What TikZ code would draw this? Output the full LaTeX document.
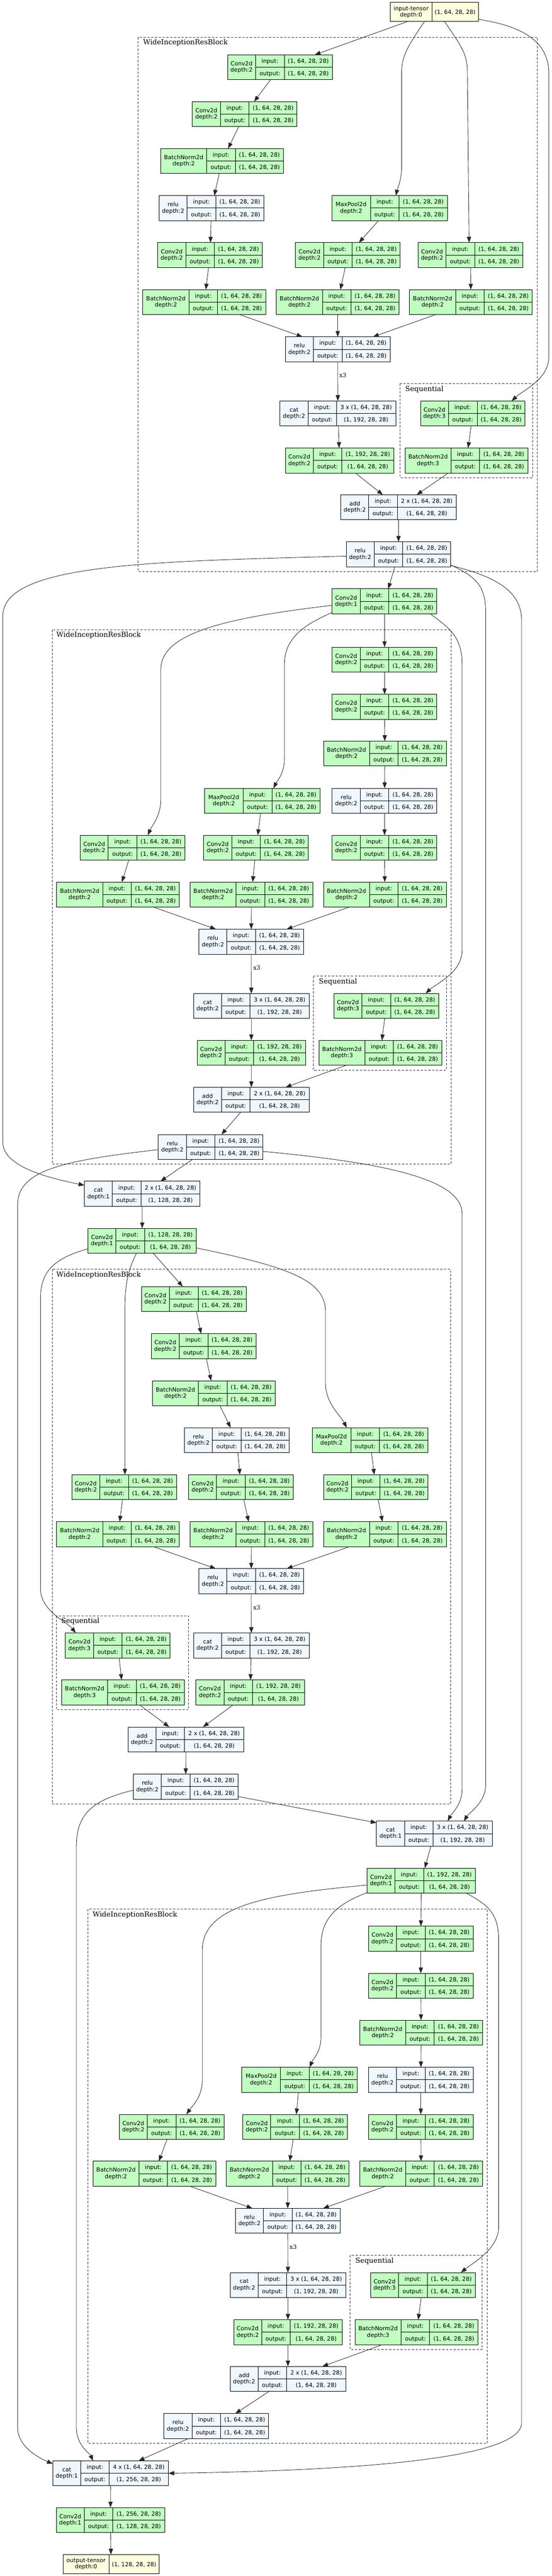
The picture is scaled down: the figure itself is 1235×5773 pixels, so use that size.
\documentclass[tikz,border=0pt]{standalone}
\usepackage{fontspec}
\newfontfamily\nodefont{DejaVu Sans}
\newfontfamily\serifont{DejaVu Serif}
\usetikzlibrary{arrows.meta,calc}
\definecolor{gfill}{HTML}{C1FFC1}
\definecolor{bfill}{HTML}{F0F8FF}
\definecolor{yfill}{HTML}{FFFFE0}
\tikzset{
 cellline/.style={line width=1.1pt,draw=black},
 ntext/.style={inner sep=0pt,font=\nodefont\fontsize{12.8}{14.3}\selectfont,align=center},
 vtext/.style={ntext,text height=10.5pt,text depth=1.2pt},
 conn/.style={line width=1pt,draw=black!85,-{Triangle[length=13pt,width=9.5pt]}},
 cluster/.style={draw=black!80,line width=1.1pt,dash pattern=on 5pt off 3.5pt},
 clabel/.style={anchor=west,inner sep=0pt,font=\serifont\fontsize{15.7}{18}\selectfont},
 elabel/.style={anchor=west,inner sep=0pt,font=\serifont\fontsize{13.3}{15}\selectfont},
}
\newcommand\tConv{\def\wa{62.6}\def\wb{64.4}\def\wc{107.3}}
\newcommand\tBN{\def\wa{103.2}\def\wb{63.8}\def\wc{107.9}}
\newcommand\tPool{\def\wa{86.5}\def\wb{64.4}\def\wc{107.9}}
\newcommand\tCat{\def\wa{62.6}\def\wb{63.8}\def\wc{132.4}}
\newcommand\tWide{\def\wa{62.6}\def\wb{63.8}\def\wc{116.3}}
\newcommand\sixfour{(1, 64, 28, 28)}
% name, x, y, type, fill, title, input, output
\newcommand\mkrec[8]{%
 #4%
 \pgfmathsetmacro\xa{#2+\wa}%
 \pgfmathsetmacro\xb{\xa+\wb}%
 \pgfmathsetmacro\xc{\xb+\wc}%
 \pgfmathsetmacro\wt{\wa+\wb+\wc}%
 \pgfmathsetmacro\yt{-(#3)}%
 \pgfmathsetmacro\ym{-(#3)-28}%
 \pgfmathsetmacro\yb{-(#3)-56}%
 \pgfmathsetmacro\yi{-(#3)-14}%
 \pgfmathsetmacro\yo{-(#3)-42}%
 \pgfmathsetmacro\xn{#2+\wa/2}%
 \pgfmathsetmacro\xl{\xa+\wb/2}%
 \pgfmathsetmacro\xv{\xb+\wc/2}%
 \node[cellline,fill=#5,inner sep=0pt,outer sep=0pt,minimum width=\wt pt,minimum height=56pt,anchor=north west] (#1) at (#2,\yt) {};
 \draw[cellline] (\xa,\yt) -- (\xa,\yb) (\xb,\yt) -- (\xb,\yb) (\xa,\ym) -- (\xc,\ym);
 \node[ntext] (#1n) at (\xn,\ym) {#6};
 \node[vtext] (#1il) at (\xl,\yi) {input:};
 \node[vtext] (#1ol) at (\xl,\yo) {output:};
 \node[vtext] (#1iv) at (\xv,\yi) {#7};
 \node[vtext] (#1ov) at (\xv,\yo) {#8};
}
% name, x, y, w1, w2, title, value
\newcommand\mktens[7]{%
 \pgfmathsetmacro\xa{#2+#4}%
 \pgfmathsetmacro\wt{#4+#5}%
 \pgfmathsetmacro\yt{-(#3)}%
 \pgfmathsetmacro\yb{-(#3)-42.8}%
 \pgfmathsetmacro\yc{-(#3)-21.4}%
 \pgfmathsetmacro\xn{#2+#4/2}%
 \pgfmathsetmacro\xv{\xa+#5/2}%
 \node[cellline,fill=yfill,inner sep=0pt,outer sep=0pt,minimum width=\wt pt,minimum height=42.8pt,anchor=north west] (#1) at (#2,\yt) {};
 \draw[cellline] (\xa,\yt) -- (\xa,\yb);
 \node[ntext] (#1n) at (\xn,\yc) {#6};
 \node[vtext] (#1v) at (\xv,\yc) {#7};
}
\begin{document}
\begin{tikzpicture}[x=1pt,y=1pt]
\fill[white] (0,0) rectangle (1235,-5773);
\useasboundingbox (0,0) rectangle (1235,-5773);
% clusters
\draw[cluster] (308.9,-83.5) rectangle (1202.8,-1280.8);
\draw[cluster] (895.7,-859.4) rectangle (1192.1,-1070.5);
\draw[cluster] (116.6,-1411.4) rectangle (1009.8,-2608.6);
\draw[cluster] (701.8,-2187.8) rectangle (998.7,-2398.4);
\draw[cluster] (116.6,-2844.5) rectangle (1008.2,-4042.9);
\draw[cluster] (126,-3621.2) rectangle (422.2,-3831.8);
\draw[cluster] (196.9,-4278.4) rectangle (1090.9,-5475.3);
\draw[cluster] (783.7,-5054.6) rectangle (1079.1,-5265);
\node[clabel] (lab1) at (320.3,-96) {WideInceptionResBlock};
\node[clabel] (lab1s) at (907,-872.3) {Sequential};
\node[clabel] (lab2) at (126,-1423.7) {WideInceptionResBlock};
\node[clabel] (lab2s) at (713.6,-2200.4) {Sequential};
\node[clabel] (lab3) at (126,-2857.5) {WideInceptionResBlock};
\node[clabel] (lab3s) at (137,-3633.5) {Sequential};
\node[clabel] (lab4) at (207.2,-4291.4) {WideInceptionResBlock};
\node[clabel] (lab4s) at (795.5,-5067) {Sequential};
% block 1
\mktens{inp}{873.6}{5.4}{93}{103.8}{input-tensor\\depth:0}{\sixfour}
\mkrec{A1}{509.3}{122.8}{\tConv}{gfill}{Conv2d\\depth:2}{\sixfour}{\sixfour}
\mkrec{A2}{430.6}{227.7}{\tConv}{gfill}{Conv2d\\depth:2}{\sixfour}{\sixfour}
\mkrec{A3}{359.6}{333}{\tBN}{gfill}{BatchNorm2d\\depth:2}{\sixfour}{\sixfour}
\mkrec{A4}{356.1}{438.4}{\tConv}{bfill}{relu\\depth:2}{\sixfour}{\sixfour}
\mkrec{A5}{353.1}{543.75}{\tConv}{gfill}{Conv2d\\depth:2}{\sixfour}{\sixfour}
\mkrec{A6}{319.7}{649}{\tBN}{gfill}{BatchNorm2d\\depth:2}{\sixfour}{\sixfour}
\mkrec{B1}{742.5}{438.4}{\tPool}{gfill}{MaxPool2d\\depth:2}{\sixfour}{\sixfour}
\mkrec{B2}{661.4}{543.75}{\tConv}{gfill}{Conv2d\\depth:2}{\sixfour}{\sixfour}
\mkrec{B3}{618.4}{649}{\tBN}{gfill}{BatchNorm2d\\depth:2}{\sixfour}{\sixfour}
\mkrec{C1}{935.7}{543.75}{\tConv}{gfill}{Conv2d\\depth:2}{\sixfour}{\sixfour}
\mkrec{C2}{916.6}{649}{\tBN}{gfill}{BatchNorm2d\\depth:2}{\sixfour}{\sixfour}
\mkrec{A7}{638.7}{754.9}{\tConv}{bfill}{relu\\depth:2}{\sixfour}{\sixfour}
\mkrec{A8}{626.8}{898.7}{\tCat}{bfill}{cat\\depth:2}{3 x \sixfour}{(1, 192, 28, 28)}
\mkrec{A9}{638.7}{1004}{\tWide}{gfill}{Conv2d\\depth:2}{(1, 192, 28, 28)}{\sixfour}
\mkrec{S1a}{941}{898.7}{\tConv}{gfill}{Conv2d\\depth:3}{\sixfour}{\sixfour}
\mkrec{S1b}{906.4}{1004}{\tBN}{gfill}{BatchNorm2d\\depth:3}{\sixfour}{\sixfour}
\mkrec{A10}{762.7}{1108.9}{\tCat}{bfill}{add\\depth:2}{2 x \sixfour}{\sixfour}
\mkrec{A11}{774.7}{1214.3}{\tConv}{bfill}{relu\\depth:2}{\sixfour}{\sixfour}
\mkrec{D0}{743.5}{1319.6}{\tConv}{gfill}{Conv2d\\depth:1}{\sixfour}{\sixfour}
% block 2
\mkrec{D1}{743.5}{1450.2}{\tConv}{gfill}{Conv2d\\depth:2}{\sixfour}{\sixfour}
\mkrec{D2}{743.5}{1555.9}{\tConv}{gfill}{Conv2d\\depth:2}{\sixfour}{\sixfour}
\mkrec{D3}{723.9}{1660.8}{\tBN}{gfill}{BatchNorm2d\\depth:2}{\sixfour}{\sixfour}
\mkrec{D4}{743.5}{1766.5}{\tConv}{bfill}{relu\\depth:2}{\sixfour}{\sixfour}
\mkrec{E1}{457.6}{1766.5}{\tPool}{gfill}{MaxPool2d\\depth:2}{\sixfour}{\sixfour}
\mkrec{F1}{179.6}{1871.8}{\tConv}{gfill}{Conv2d\\depth:2}{\sixfour}{\sixfour}
\mkrec{E2}{456}{1871.8}{\tConv}{gfill}{Conv2d\\depth:2}{\sixfour}{\sixfour}
\mkrec{D5}{743.5}{1871.8}{\tConv}{gfill}{Conv2d\\depth:2}{\sixfour}{\sixfour}
\mkrec{F2}{126.8}{1976.7}{\tBN}{gfill}{BatchNorm2d\\depth:2}{\sixfour}{\sixfour}
\mkrec{E3}{425.3}{1976.7}{\tBN}{gfill}{BatchNorm2d\\depth:2}{\sixfour}{\sixfour}
\mkrec{D6}{723.9}{1976.7}{\tBN}{gfill}{BatchNorm2d\\depth:2}{\sixfour}{\sixfour}
\mkrec{D7}{445}{2082.4}{\tConv}{bfill}{relu\\depth:2}{\sixfour}{\sixfour}
\mkrec{D8}{433.2}{2226.5}{\tCat}{bfill}{cat\\depth:2}{3 x \sixfour}{(1, 192, 28, 28)}
\mkrec{D9}{441.1}{2331.4}{\tWide}{gfill}{Conv2d\\depth:2}{(1, 192, 28, 28)}{\sixfour}
\mkrec{S2a}{747.5}{2226.5}{\tConv}{gfill}{Conv2d\\depth:3}{\sixfour}{\sixfour}
\mkrec{S2b}{713.6}{2331.4}{\tBN}{gfill}{BatchNorm2d\\depth:3}{\sixfour}{\sixfour}
\mkrec{D10}{433.2}{2436.7}{\tCat}{bfill}{add\\depth:2}{2 x \sixfour}{\sixfour}
\mkrec{D11}{354.4}{2542.4}{\tConv}{bfill}{relu\\depth:2}{\sixfour}{\sixfour}
% block 3
\mkrec{G1}{189}{2647.3}{\tCat}{bfill}{cat\\depth:1}{2 x \sixfour}{(1, 128, 28, 28)}
\mkrec{G2}{196.9}{2752.7}{\tWide}{gfill}{Conv2d\\depth:1}{(1, 128, 28, 28)}{\sixfour}
\mkrec{H1}{316.6}{2883.3}{\tConv}{gfill}{Conv2d\\depth:2}{\sixfour}{\sixfour}
\mkrec{H2}{338.7}{2989}{\tConv}{gfill}{Conv2d\\depth:2}{\sixfour}{\sixfour}
\mkrec{H3}{341.1}{3094.3}{\tBN}{gfill}{BatchNorm2d\\depth:2}{\sixfour}{\sixfour}
\mkrec{H4}{412.7}{3199.6}{\tConv}{bfill}{relu\\depth:2}{\sixfour}{\sixfour}
\mkrec{I1}{698.6}{3199.6}{\tPool}{gfill}{MaxPool2d\\depth:2}{\sixfour}{\sixfour}
\mkrec{J1}{160.7}{3304.9}{\tConv}{gfill}{Conv2d\\depth:2}{\sixfour}{\sixfour}
\mkrec{H5}{422.2}{3304.9}{\tConv}{gfill}{Conv2d\\depth:2}{\sixfour}{\sixfour}
\mkrec{I2}{723.9}{3304.9}{\tConv}{gfill}{Conv2d\\depth:2}{\sixfour}{\sixfour}
\mkrec{J2}{126.8}{3410.2}{\tBN}{gfill}{BatchNorm2d\\depth:2}{\sixfour}{\sixfour}
\mkrec{H6}{425.3}{3410.2}{\tBN}{gfill}{BatchNorm2d\\depth:2}{\sixfour}{\sixfour}
\mkrec{I3}{723.9}{3410.2}{\tBN}{gfill}{BatchNorm2d\\depth:2}{\sixfour}{\sixfour}
\mkrec{H7}{445}{3515.5}{\tConv}{bfill}{relu\\depth:2}{\sixfour}{\sixfour}
\mkrec{S3a}{146.5}{3659.6}{\tConv}{gfill}{Conv2d\\depth:3}{\sixfour}{\sixfour}
\mkrec{H8}{433.2}{3659.6}{\tCat}{bfill}{cat\\depth:2}{3 x \sixfour}{(1, 192, 28, 28)}
\mkrec{S3b}{137.8}{3764.9}{\tBN}{gfill}{BatchNorm2d\\depth:3}{\sixfour}{\sixfour}
\mkrec{H9}{438.7}{3764.9}{\tWide}{gfill}{Conv2d\\depth:2}{(1, 192, 28, 28)}{\sixfour}
\mkrec{H10}{286.7}{3870.2}{\tCat}{bfill}{add\\depth:2}{2 x \sixfour}{\sixfour}
\mkrec{H11}{298.5}{3976}{\tConv}{bfill}{relu\\depth:2}{\sixfour}{\sixfour}
% block 4
\mkrec{K1}{842.8}{4081.2}{\tCat}{bfill}{cat\\depth:1}{3 x \sixfour}{(1, 192, 28, 28)}
\mkrec{K2}{821.5}{4186.5}{\tWide}{gfill}{Conv2d\\depth:1}{(1, 192, 28, 28)}{\sixfour}
\mkrec{L1}{824.7}{4316.7}{\tConv}{gfill}{Conv2d\\depth:2}{\sixfour}{\sixfour}
\mkrec{L2}{824.7}{4422.4}{\tConv}{gfill}{Conv2d\\depth:2}{\sixfour}{\sixfour}
\mkrec{L3}{805}{4527.3}{\tBN}{gfill}{BatchNorm2d\\depth:2}{\sixfour}{\sixfour}
\mkrec{L4}{824.7}{4633}{\tConv}{bfill}{relu\\depth:2}{\sixfour}{\sixfour}
\mkrec{M1}{541.1}{4633}{\tPool}{gfill}{MaxPool2d\\depth:2}{\sixfour}{\sixfour}
\mkrec{N1}{267}{4738.4}{\tConv}{gfill}{Conv2d\\depth:2}{\sixfour}{\sixfour}
\mkrec{M2}{543.5}{4738.4}{\tConv}{gfill}{Conv2d\\depth:2}{\sixfour}{\sixfour}
\mkrec{L5}{824.7}{4738.4}{\tConv}{gfill}{Conv2d\\depth:2}{\sixfour}{\sixfour}
\mkrec{N2}{207.9}{4843.3}{\tBN}{gfill}{BatchNorm2d\\depth:2}{\sixfour}{\sixfour}
\mkrec{M3}{506.5}{4843.3}{\tBN}{gfill}{BatchNorm2d\\depth:2}{\sixfour}{\sixfour}
\mkrec{L6}{805}{4843.3}{\tBN}{gfill}{BatchNorm2d\\depth:2}{\sixfour}{\sixfour}
\mkrec{L7}{526.9}{4949}{\tConv}{bfill}{relu\\depth:2}{\sixfour}{\sixfour}
\mkrec{L8}{515.1}{5093}{\tCat}{bfill}{cat\\depth:2}{3 x \sixfour}{(1, 192, 28, 28)}
\mkrec{S4a}{829.4}{5093}{\tConv}{gfill}{Conv2d\\depth:3}{\sixfour}{\sixfour}
\mkrec{L9}{523}{5198.7}{\tWide}{gfill}{Conv2d\\depth:2}{(1, 192, 28, 28)}{\sixfour}
\mkrec{S4b}{794.7}{5198.7}{\tBN}{gfill}{BatchNorm2d\\depth:3}{\sixfour}{\sixfour}
\mkrec{L10}{515.1}{5303.4}{\tCat}{bfill}{add\\depth:2}{2 x \sixfour}{\sixfour}
\mkrec{L11}{367}{5409}{\tConv}{bfill}{relu\\depth:2}{\sixfour}{\sixfour}
\mkrec{P1}{118.1}{5514.7}{\tCat}{bfill}{cat\\depth:1}{4 x \sixfour}{(1, 256, 28, 28)}
\mkrec{P2}{126}{5619.4}{\tWide}{gfill}{Conv2d\\depth:1}{(1, 256, 28, 28)}{(1, 128, 28, 28)}
\mktens{P3}{141}{5725}{103.2}{111.8}{output-tensor\\depth:0}{(1, 128, 28, 28)}
% x3 labels
\node[elabel] (x3a) at (759.2,-840.6) {x3};
\node[elabel] (x3b) at (566.5,-2168.6) {x3};
\node[elabel] (x3c) at (566.5,-3602.9) {x3};
\node[elabel] (x3d) at (648,-5035.8) {x3};
% straight edges
\foreach \a/\b in {inp/A1,A1/A2,A2/A3,A3/A4,A4/A5,A5/A6,B1/B2,B2/B3,C1/C2,A6/A7,B3/A7,C2/A7,A7/A8,A8/A9,A9/A10,S1a/S1b,S1b/A10,A10/A11,A11/D0,
 D0/D1,D1/D2,D2/D3,D3/D4,D4/D5,D5/D6,E1/E2,E2/E3,F1/F2,F2/D7,E3/D7,D6/D7,D7/D8,D8/D9,D9/D10,S2a/S2b,S2b/D10,D10/D11,D11/G1,
 G1/G2,G2/H1,H1/H2,H2/H3,H3/H4,H4/H5,H5/H6,I1/I2,I2/I3,J1/J2,J2/H7,H6/H7,I3/H7,H7/H8,H8/H9,H9/H10,S3a/S3b,S3b/H10,H10/H11,H11/K1,
 K1/K2,K2/L1,L1/L2,L2/L3,L3/L4,L4/L5,L5/L6,M1/M2,M2/M3,N1/N2,N2/L7,M3/L7,L6/L7,L7/L8,L8/L9,L9/L10,S4a/S4b,S4b/L10,L10/L11,L11/P1,
 P1/P2,P2/P3}
 \draw[conn] (\a) -- (\b);
% curved edges
\draw[conn] ($(inp.south)+(-22pt,0)$) .. controls (915,-100) and (899,-125) .. (899,-160) -- (899,-370) .. controls (899,-405) and (890,-420) .. ($(B1.north)+(14pt,0)$);
\draw[conn] ($(inp.south)+(23pt,0)$) .. controls (1030,-100) and (1046,-120) .. (1046,-160) -- ($(C1.north)+(-3pt,0)$);
\draw[conn] ($(inp.south east)+(0,5pt)$) .. controls (1165,-58) and (1228.4,-90) .. (1228.4,-165) -- (1228.4,-800) .. controls (1228.4,-850) and (1170,-875) .. ($(S1a.north)+(87pt,0)$);
\draw[conn] ($(A11.west)+(0,-4pt)$) .. controls (350,-1258) and (6.3,-1262) .. (6.3,-1380) -- (6.3,-2560) .. controls (6.3,-2615) and (110,-2640) .. ($(G1.north west)+(0,-9pt)$);
\draw[conn] ($(A11.south east)+(0,4pt)$) .. controls (1060,-1290) and (1087,-1310) .. (1087,-1370) -- (1087,-4000) .. controls (1087,-4040) and (1050,-4062) .. ($(K1.north)+(66pt,0)$);
\draw[conn] ($(A11.south east)+(0,3pt)$) .. controls (1100,-1290) and (1167.3,-1320) .. (1167.3,-1390) -- (1167.3,-5430) .. controls (1167.3,-5520) and (700,-5538) .. (P1.east);
\draw[conn] ($(D0.west)+(0,-9pt)$) .. controls (500,-1385) and (360,-1420) .. (360,-1500) -- (360,-1790) .. controls (360,-1830) and (340,-1850) .. ($(F1.north)+(34pt,0)$);
\draw[conn] ($(D0.south west)+(0,3pt)$) .. controls (680,-1400) and (636.4,-1430) .. (636.4,-1490) -- (636.4,-1700) .. controls (636.4,-1735) and (620,-1750) .. ($(E1.north)+(25pt,0)$);
\draw[conn] ($(D0.south east)+(-15pt,0)$) .. controls (1010,-1410) and (1034.2,-1430) .. (1034.2,-1490) -- (1034.2,-2130) .. controls (1034.2,-2180) and (975,-2205) .. ($(S2a.north)+(88pt,0)$);
\draw[conn] ($(D11.west)+(0,-6pt)$) .. controls (150,-2600) and (39.4,-2620) .. (39.4,-2700) -- (39.4,-5440) .. controls (39.4,-5480) and (80,-5505) .. ($(P1.north west)+(0,-7pt)$);
\draw[conn] ($(D11.east)+(0,-10pt)$) .. controls (850,-2605) and (1034.2,-2640) .. (1034.2,-2720) -- (1034.2,-4010) .. controls (1034.2,-4045) and (1010,-4065) .. ($(K1.north)+(30pt,0)$);
\draw[conn] ($(G2.south west)+(0,10pt)$) .. controls (120,-2820) and (90.6,-2850) .. (90.6,-2910) -- (90.6,-3560) .. controls (90.6,-3610) and (150,-3635) .. ($(S3a.north)+(-94pt,0)$);
\draw[conn] ($(G2.south)+(-13pt,0)$) .. controls (290,-2840) and (279.6,-2870) .. (279.6,-2930) -- ($(J1.north)+(1.7pt,0)$);
\draw[conn] ($(G2.east)+(0,-16pt)$) .. controls (650,-2840) and (728.6,-2870) .. (728.6,-2940) -- (728.6,-3100) .. controls (728.6,-3145) and (762,-3172) .. ($(I1.north)+(-52pt,0)$);
\draw[conn] ($(H11.west)+(0,-8pt)$) .. controls (200,-4035) and (170.9,-4070) .. (170.9,-4140) -- (170.9,-5440) .. controls (170.9,-5480) and (200,-5497) .. ($(P1.north)+(-39pt,0)$);
\draw[conn] ($(K2.west)+(0,-10pt)$) .. controls (600,-4245) and (452.9,-4270) .. (452.9,-4370) -- (452.9,-4660) .. controls (452.9,-4700) and (430,-4720) .. ($(N1.north)+(33pt,0)$);
\draw[conn] ($(K2.south west)+(0,1pt)$) .. controls (760,-4265) and (718.3,-4295) .. (718.3,-4360) -- (718.3,-4565) .. controls (718.3,-4600) and (700,-4615) .. ($(M1.north)+(22.6pt,0)$);
\draw[conn] ($(K2.south east)+(-21pt,0)$) .. controls (1095,-4270) and (1116.1,-4290) .. (1116.1,-4350) -- (1116.1,-4990) .. controls (1116.1,-5040) and (1060,-5070) .. ($(S4a.north)+(85pt,0)$);
\end{tikzpicture}
\end{document}
